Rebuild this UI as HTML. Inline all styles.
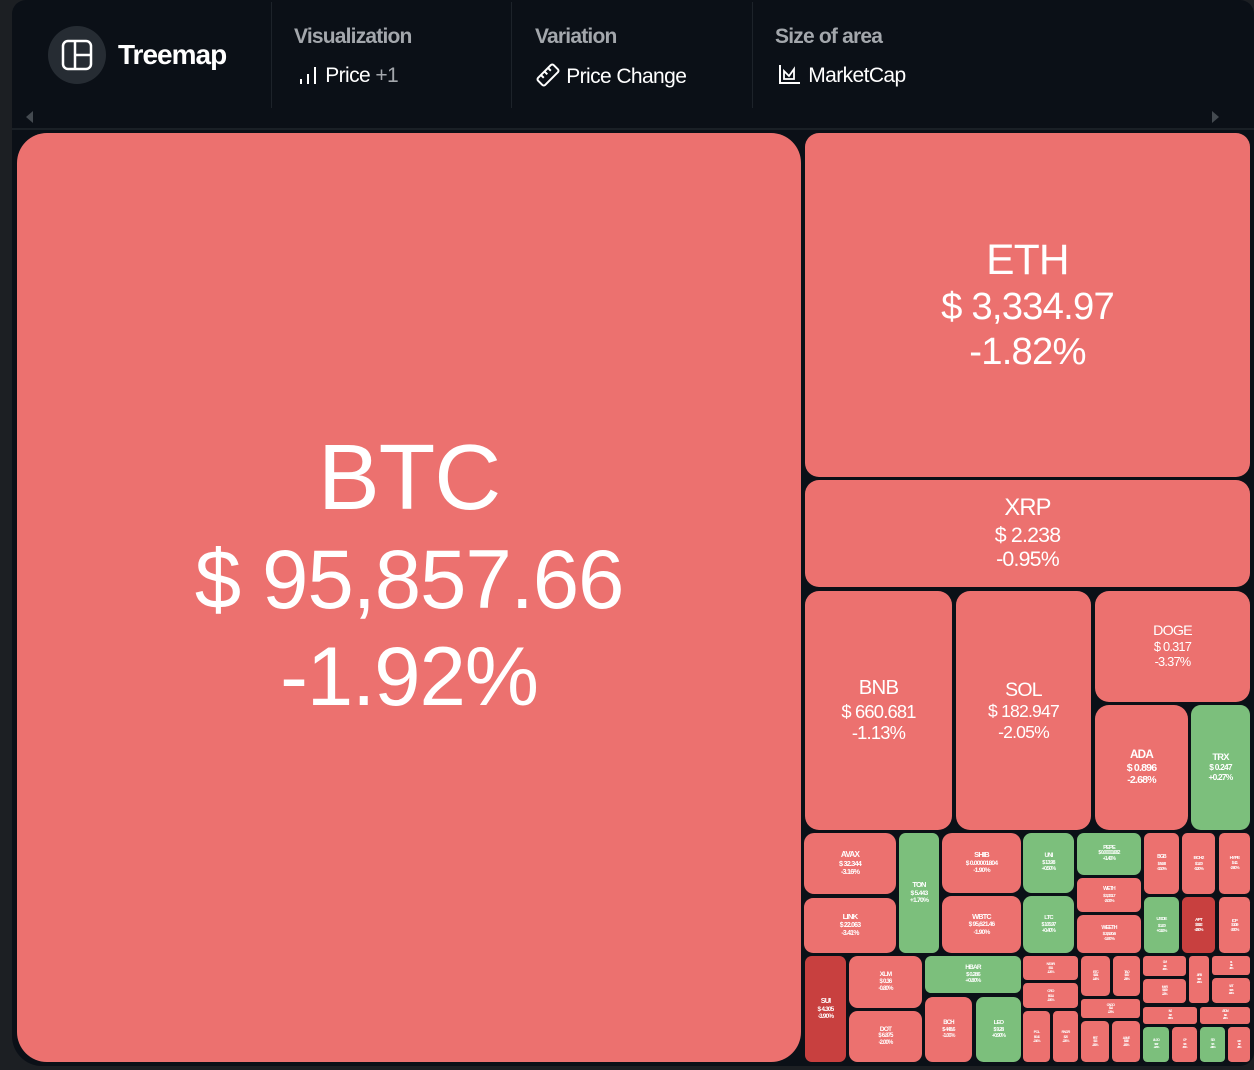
<!DOCTYPE html>
<html><head><meta charset="utf-8">
<style>
html,body{margin:0;padding:0;width:1254px;height:1070px;overflow:hidden;background:#1c1f23;font-family:"Liberation Sans",sans-serif}
#panel{position:absolute;left:12px;top:0;width:1242px;height:1066px;background:#0b1017;border-radius:14px 14px 14px 30px}
#hdr{position:absolute;left:0;top:0;width:1254px;height:130px}
.div{position:absolute;top:2px;width:1px;height:106px;background:#1d232a}
.lab{position:absolute;top:25px;color:#a3a7ac;font-weight:bold;font-size:21px;letter-spacing:-0.8px}
.val{position:absolute;top:63px;color:#fff;font-size:21px;letter-spacing:-0.6px}
.tile{position:absolute;color:#fff;display:flex;flex-direction:column;align-items:center;justify-content:center;text-align:center;overflow:hidden;box-sizing:border-box}
.tile div{white-space:nowrap}
</style></head><body>
<div id="panel"></div>
<div id="hdr">
 <div style="position:absolute;left:48px;top:26px;width:58px;height:58px;border-radius:50%;background:#262c33">
  <svg width="58" height="58" viewBox="0 0 58 58"><rect x="15" y="15" width="28" height="28" rx="5" fill="none" stroke="#fff" stroke-width="2.5"/><line x1="27" y1="15" x2="27" y2="43" stroke="#fff" stroke-width="2.5"/><line x1="27" y1="29" x2="43" y2="29" stroke="#fff" stroke-width="2.5"/></svg>
 </div>
 <div style="position:absolute;left:118px;top:39px;color:#fff;font-weight:bold;font-size:28px;letter-spacing:-1px">Treemap</div>
 <div class="div" style="left:271px"></div><div class="div" style="left:511px"></div><div class="div" style="left:752px"></div>
 <div class="lab" style="left:294px">Visualization</div>
 <div class="val" style="left:298px"><svg width="22" height="22" style="vertical-align:-3px"><rect x="2" y="16" width="2" height="5" fill="#fff"/><rect x="9" y="11" width="2" height="10" fill="#fff"/><rect x="16" y="4" width="2" height="17" fill="#fff"/></svg> Price <span style="color:#a3a7ac">+1</span></div>
 <div class="lab" style="left:535px">Variation</div>
 <div class="val" style="left:535px"><svg width="26" height="24" style="vertical-align:-4px"><g transform="rotate(-45 13 12)"><rect x="2" y="7" width="22" height="10" rx="2" fill="none" stroke="#fff" stroke-width="2"/><line x1="8" y1="7" x2="8" y2="11" stroke="#fff" stroke-width="2"/><line x1="13" y1="7" x2="13" y2="11" stroke="#fff" stroke-width="2"/><line x1="18" y1="7" x2="18" y2="11" stroke="#fff" stroke-width="2"/></g></svg> Price Change</div>
 <div class="lab" style="left:775px">Size of area</div>
 <div class="val" style="left:777px"><svg width="26" height="22" style="vertical-align:-3px"><path d="M3 2 V20 H23" fill="none" stroke="#fff" stroke-width="2"/><path d="M7 16 V8 L12 13 L17 6 V16 Z" fill="none" stroke="#fff" stroke-width="1.8"/></svg> MarketCap</div>
 <div style="position:absolute;left:26px;top:111px;width:0;height:0;border-top:6px solid transparent;border-bottom:6px solid transparent;border-right:7px solid #444a50"></div>
 <div style="position:absolute;left:1212px;top:111px;width:0;height:0;border-top:6px solid transparent;border-bottom:6px solid transparent;border-left:7px solid #444a50"></div>
 <div style="position:absolute;left:12px;top:128px;width:1242px;height:2px;background:#1a2026"></div>
</div>
<div id="map"></div>
<script>
const names=["BTC","ETH","XRP","BNB","SOL","DOGE","ADA","TRX","AVAX","LINK","TON","SHIB","WBTC","UNI","LTC","PEPE","WETH","WEETH","BGB","USDE","BCH2","APT","HYPE","ICP","SUI","XLM","DOT","HBAR","BCH","LEO","NEAR","CRO","POL","RNDR","ETC","TAO","ONDO","FET","AAVE","OM","KAS","ARB","FIL","VET","INJ","ATOM","ALGO","OP","STX","IMX","MKR","GRT"];
const prices=["$ 95,857.66","$ 3,334.97","$ 2.238","$ 660.681","$ 182.947","$ 0.317","$ 0.896","$ 0.247","$ 32.344","$ 22.063","$ 5.443","$ 0.00001804","$ 95,621.46","$ 13.98","$ 105.97","$ 0.00001682","$ 3,331.7","$ 3,520.6","$ 5.58","$ 1.00","$ 1.00","$ 8.82","$ 4.1","$ 10.9","$ 4.305","$ 0.36","$ 6.875","$ 0.286","$ 448.6","$ 9.28","$ 5.1","$ 0.14","$ 0.46","$ 7.0","$ 26.1","$ 470","$ 1.4","$ 1.3","$ 330","$ 3.8","$ 0.11","$ 0.71","$ 5.0","$ 0.05","$ 22","$ 6.4","$ 0.37","$ 1.8","$ 1.5","$ 1.2","$ 1,600","$ 0.20"];
const changes=[-1.92,-1.82,-0.95,-1.13,-2.05,-3.37,-2.68,0.27,-3.16,-3.41,1.7,-1.9,-1.9,0.5,0.4,1.4,-2.0,-1.9,-3.1,0.1,-0.2,-4.5,-2.6,-3.0,-3.9,-0.8,-2.0,0.8,-1.0,0.9,-1.2,-1.5,-2.1,-2.2,-1.4,-2.5,-1.7,-2.6,-1.6,-1.8,-1.1,-2.3,-1.3,-1.9,-0.6,-2.4,1.2,-1.5,0.8,-2.7,-1.2,-2.0];
// layout rectangles [x,y,w,h] (treemap geometry)
const layout=[[17,133,784,929],[805,133,445,344],[805,480,445,107],[805,591,147,239],[956,591,135,239],[1095,591,155,111],[1095,705,93,125],[1191,705,59,125],
[804,833,92,61],[804,898,92,55],[899,833,40,120],[942,833,79,60],[942,896,79,57],[1023,833,51,60],[1023,896,51,57],[1077,833,64,42],[1077,878,64,34],[1077,915,64,38],
[1144,833,35,61],[1144,897,35,56],[1182,833,33,61],[1182,897,33,56],[1219,833,31,61],[1219,897,31,56],
[805,956,41,106],[849,956,73,52],[849,1011,73,51],[925,956,96,37],[925,997,47,65],[976,997,45,65],
[1023,956,55,24],[1023,983,55,25],[1023,1011,27,51],[1053,1011,25,51],[1081,956,29,40],[1113,956,27,40],[1081,999,59,19],[1081,1021,28,41],[1112,1021,28,41],
[1143,956,43,20],[1143,959,43,0],[1189,956,20,47],[1212,956,38,19],[1212,978,38,25],[1143,1007,54,17],[1200,1007,50,17],[1143,1027,26,35],[1172,1027,25,35],[1200,1027,25,35],[1228,1027,22,35],[1143,979,43,24],[1143,979,0,0]];
const map=document.getElementById('map');
const dark=["SUI","APT"];
names.forEach((n,i)=>{
  const r=layout[i]; if(!r||r[2]<=0||r[3]<=0) return;
  const [x,y,w,h]=r, c=changes[i];
  const el=document.createElement('div');
  
  
  el.className='tile';
  const bg=dark.includes(n)?'#c8403f':(c>=0?'#7cbf7c':'#ec716f');
  const rad=i===0?30:Math.min(14,Math.min(w,h)/6);
  const fs=Math.min(Math.sqrt(w*h)/9.2,h/4.4,w/3.4);
  const ls=fs>60?-0.07:-0.05;
  const pb=i===0?h*0.05:0;
  const fw=fs<13?'bold':'normal';
  el.style.cssText=`left:${x}px;top:${y}px;width:${w}px;height:${h}px;background:${bg};border-radius:${rad}px;line-height:1.16;letter-spacing:${ls}em;padding-bottom:${pb}px;font-weight:${fw}`;
  const pct=(c>0?'+':'')+c.toFixed(2)+'%';
  el.innerHTML=`<div style="font-size:${fs}px">${n}</div><div style="font-size:${fs*0.9}px">${prices[i]}</div><div style="font-size:${fs*0.9}px">${pct}</div>`;
  map.appendChild(el);
});
</script>
</body></html>
